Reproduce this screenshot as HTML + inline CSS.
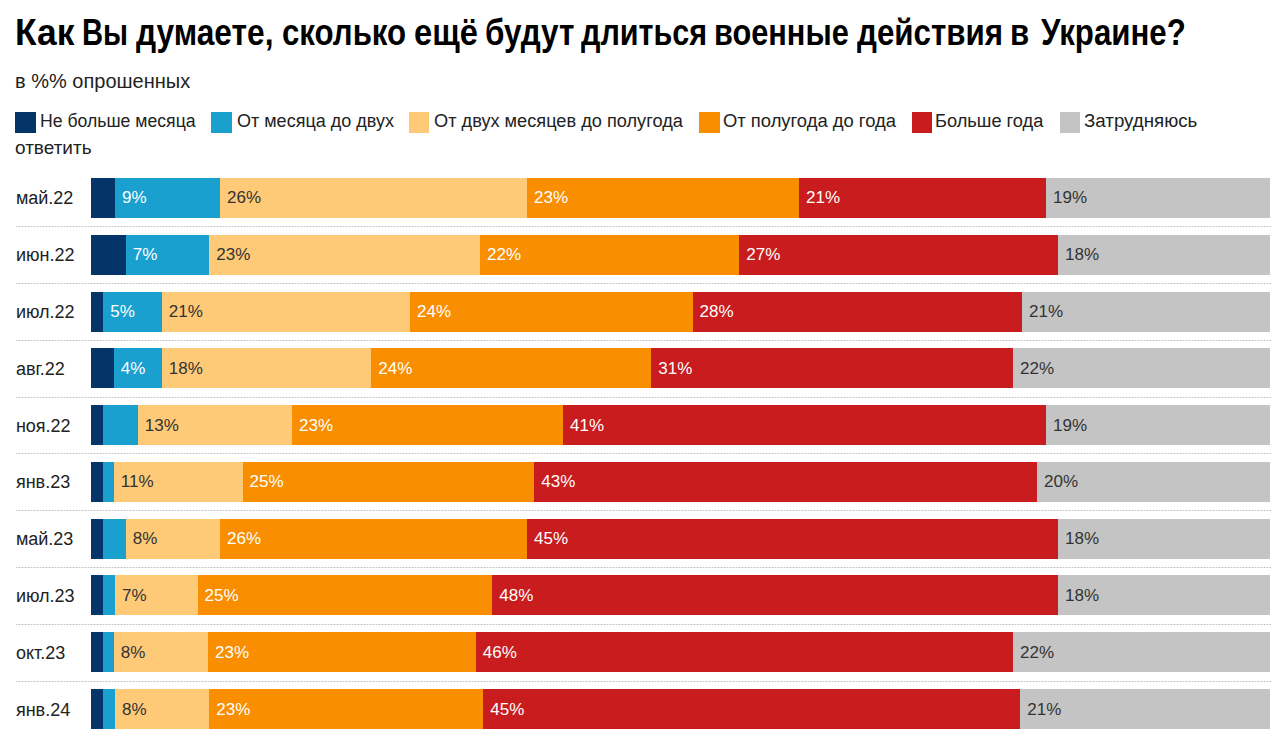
<!DOCTYPE html><html><head><meta charset="utf-8"><style>
*{margin:0;padding:0;box-sizing:border-box}
html,body{width:1280px;height:736px;overflow:hidden;background:#fff}
body{position:relative;font-family:"Liberation Sans",sans-serif;color:#111}
.t{position:absolute;white-space:nowrap}
.tw{position:absolute;top:13.2px;font-size:36px;font-weight:bold;color:#000;line-height:40px;white-space:nowrap;transform-origin:0 0}
#sub{left:15px;top:68.8px;font-size:20px;color:#222;line-height:24px}
.lg{position:absolute;height:20.7px;width:20.6px;top:112px}
.lt{position:absolute;top:109.5px;font-size:18px;line-height:22px;color:#222;white-space:nowrap;transform-origin:0 0}
.rl{position:absolute;left:15.9px;font-size:18px;line-height:20px;color:#222;white-space:nowrap}
.bar{position:absolute;height:40px}
.v{position:absolute;font-size:17px;line-height:20px;white-space:nowrap}
.dl{position:absolute;left:16px;width:1255px;height:1px;background:repeating-linear-gradient(90deg,#bfbfbf 0 1px,#e6e6e6 1px 3px)}
</style></head><body>
<div class="tw" style="left:15.03px;transform:scaleX(0.9828)">Как</div>
<div class="tw" style="left:82.48px;transform:scaleX(0.8115)">Вы</div>
<div class="tw" style="left:135.50px;transform:scaleX(0.8799)">думаете,</div>
<div class="tw" style="left:281.63px;transform:scaleX(0.8667)">сколько</div>
<div class="tw" style="left:414.29px;transform:scaleX(0.9074)">ещё</div>
<div class="tw" style="left:484.50px;transform:scaleX(0.8732)">будут</div>
<div class="tw" style="left:581.25px;transform:scaleX(0.8490)">длиться</div>
<div class="tw" style="left:713.74px;transform:scaleX(0.8532)">военные</div>
<div class="tw" style="left:856.80px;transform:scaleX(0.8702)">действия</div>
<div class="tw" style="left:1009.90px;transform:scaleX(0.8667)">в</div>
<div class="tw" style="left:1041.40px;transform:scaleX(0.8667)">Украине?</div>
<div class="t" id="sub">в %% опрошенных</div>
<div class="lg" style="left:15.3px;background:#053468"></div>
<div class="lt" style="left:39.8px;transform:scaleX(0.98)">Не больше месяца</div>
<div class="lg" style="left:211px;background:#19a0cf"></div>
<div class="lt" style="left:237px;transform:scaleX(1.0)">От месяца до двух</div>
<div class="lg" style="left:408.5px;background:#feca77"></div>
<div class="lt" style="left:434px;transform:scaleX(1.01)">От двух месяцев до полугода</div>
<div class="lg" style="left:699.3px;background:#f88e00"></div>
<div class="lt" style="left:723px;transform:scaleX(1.022)">От полугода до года</div>
<div class="lg" style="left:911.5px;background:#c81c1e"></div>
<div class="lt" style="left:935px;transform:scaleX(1.012)">Больше года</div>
<div class="lg" style="left:1059.5px;background:#c4c4c4"></div>
<div class="lt" style="left:1084px;transform:scaleX(1.04)">Затрудняюсь</div>
<div class="lt" style="left:15px;top:136.6px;transform:scaleX(1.055)">ответить</div>
<div class="rl" style="top:188px">май.22</div>
<div class="bar" style="left:91px;width:24.00px;top:178.00px;background:#053468"></div>
<div class="bar" style="left:115px;width:105.00px;top:178.00px;background:#19a0cf"></div>
<div class="v" style="left:122.00px;top:188px;color:#fff">9%</div>
<div class="bar" style="left:220px;width:307.00px;top:178.00px;background:#feca77"></div>
<div class="v" style="left:227.00px;top:188px;color:#333">26%</div>
<div class="bar" style="left:527px;width:272.00px;top:178.00px;background:#f88e00"></div>
<div class="v" style="left:534.00px;top:188px;color:#fff">23%</div>
<div class="bar" style="left:799px;width:247.00px;top:178.00px;background:#c81c1e"></div>
<div class="v" style="left:806.00px;top:188px;color:#fff">21%</div>
<div class="bar" style="left:1046px;width:224.00px;top:178.00px;background:#c4c4c4"></div>
<div class="v" style="left:1053.00px;top:188px;color:#333">19%</div>
<div class="dl" style="top:226.30px"></div>
<div class="rl" style="top:245px">июн.22</div>
<div class="bar" style="left:91px;width:34.75px;top:234.78px;background:#053468"></div>
<div class="bar" style="left:125.75px;width:83.50px;top:234.78px;background:#19a0cf"></div>
<div class="v" style="left:132.75px;top:245px;color:#fff">7%</div>
<div class="bar" style="left:209.25px;width:270.75px;top:234.78px;background:#feca77"></div>
<div class="v" style="left:216.25px;top:245px;color:#333">23%</div>
<div class="bar" style="left:480px;width:259.25px;top:234.78px;background:#f88e00"></div>
<div class="v" style="left:487.00px;top:245px;color:#fff">22%</div>
<div class="bar" style="left:739.25px;width:318.75px;top:234.78px;background:#c81c1e"></div>
<div class="v" style="left:746.25px;top:245px;color:#fff">27%</div>
<div class="bar" style="left:1058px;width:212.00px;top:234.78px;background:#c4c4c4"></div>
<div class="v" style="left:1065.00px;top:245px;color:#333">18%</div>
<div class="dl" style="top:283.08px"></div>
<div class="rl" style="top:302px">июл.22</div>
<div class="bar" style="left:91px;width:12.25px;top:291.56px;background:#053468"></div>
<div class="bar" style="left:103.25px;width:58.50px;top:291.56px;background:#19a0cf"></div>
<div class="v" style="left:110.25px;top:302px;color:#fff">5%</div>
<div class="bar" style="left:161.75px;width:248.25px;top:291.56px;background:#feca77"></div>
<div class="v" style="left:168.75px;top:302px;color:#333">21%</div>
<div class="bar" style="left:410px;width:282.50px;top:291.56px;background:#f88e00"></div>
<div class="v" style="left:417.00px;top:302px;color:#fff">24%</div>
<div class="bar" style="left:692.5px;width:329.50px;top:291.56px;background:#c81c1e"></div>
<div class="v" style="left:699.50px;top:302px;color:#fff">28%</div>
<div class="bar" style="left:1022px;width:248.00px;top:291.56px;background:#c4c4c4"></div>
<div class="v" style="left:1029.00px;top:302px;color:#333">21%</div>
<div class="dl" style="top:339.86px"></div>
<div class="rl" style="top:359px">авг.22</div>
<div class="bar" style="left:91px;width:22.75px;top:348.34px;background:#053468"></div>
<div class="bar" style="left:113.75px;width:48.00px;top:348.34px;background:#19a0cf"></div>
<div class="v" style="left:120.75px;top:359px;color:#fff">4%</div>
<div class="bar" style="left:161.75px;width:209.50px;top:348.34px;background:#feca77"></div>
<div class="v" style="left:168.75px;top:359px;color:#333">18%</div>
<div class="bar" style="left:371.25px;width:280.00px;top:348.34px;background:#f88e00"></div>
<div class="v" style="left:378.25px;top:359px;color:#fff">24%</div>
<div class="bar" style="left:651.25px;width:361.75px;top:348.34px;background:#c81c1e"></div>
<div class="v" style="left:658.25px;top:359px;color:#fff">31%</div>
<div class="bar" style="left:1013px;width:257.00px;top:348.34px;background:#c4c4c4"></div>
<div class="v" style="left:1020.00px;top:359px;color:#333">22%</div>
<div class="dl" style="top:396.64px"></div>
<div class="rl" style="top:416px">ноя.22</div>
<div class="bar" style="left:91px;width:12.25px;top:405.12px;background:#053468"></div>
<div class="bar" style="left:103.25px;width:34.50px;top:405.12px;background:#19a0cf"></div>
<div class="bar" style="left:137.75px;width:154.25px;top:405.12px;background:#feca77"></div>
<div class="v" style="left:144.75px;top:416px;color:#333">13%</div>
<div class="bar" style="left:292px;width:271.00px;top:405.12px;background:#f88e00"></div>
<div class="v" style="left:299.00px;top:416px;color:#fff">23%</div>
<div class="bar" style="left:563px;width:483.00px;top:405.12px;background:#c81c1e"></div>
<div class="v" style="left:570.00px;top:416px;color:#fff">41%</div>
<div class="bar" style="left:1046px;width:224.00px;top:405.12px;background:#c4c4c4"></div>
<div class="v" style="left:1053.00px;top:416px;color:#333">19%</div>
<div class="dl" style="top:453.42px"></div>
<div class="rl" style="top:472px">янв.23</div>
<div class="bar" style="left:91px;width:12.25px;top:461.90px;background:#053468"></div>
<div class="bar" style="left:103.25px;width:10.50px;top:461.90px;background:#19a0cf"></div>
<div class="bar" style="left:113.75px;width:128.75px;top:461.90px;background:#feca77"></div>
<div class="v" style="left:120.75px;top:472px;color:#333">11%</div>
<div class="bar" style="left:242.5px;width:291.75px;top:461.90px;background:#f88e00"></div>
<div class="v" style="left:249.50px;top:472px;color:#fff">25%</div>
<div class="bar" style="left:534.25px;width:502.75px;top:461.90px;background:#c81c1e"></div>
<div class="v" style="left:541.25px;top:472px;color:#fff">43%</div>
<div class="bar" style="left:1037px;width:233.00px;top:461.90px;background:#c4c4c4"></div>
<div class="v" style="left:1044.00px;top:472px;color:#333">20%</div>
<div class="dl" style="top:510.20px"></div>
<div class="rl" style="top:529px">май.23</div>
<div class="bar" style="left:91px;width:12.25px;top:518.68px;background:#053468"></div>
<div class="bar" style="left:103.25px;width:22.50px;top:518.68px;background:#19a0cf"></div>
<div class="bar" style="left:125.75px;width:94.25px;top:518.68px;background:#feca77"></div>
<div class="v" style="left:132.75px;top:529px;color:#333">8%</div>
<div class="bar" style="left:220px;width:307.00px;top:518.68px;background:#f88e00"></div>
<div class="v" style="left:227.00px;top:529px;color:#fff">26%</div>
<div class="bar" style="left:527px;width:531.00px;top:518.68px;background:#c81c1e"></div>
<div class="v" style="left:534.00px;top:529px;color:#fff">45%</div>
<div class="bar" style="left:1058px;width:212.00px;top:518.68px;background:#c4c4c4"></div>
<div class="v" style="left:1065.00px;top:529px;color:#333">18%</div>
<div class="dl" style="top:566.98px"></div>
<div class="rl" style="top:586px">июл.23</div>
<div class="bar" style="left:91px;width:12.25px;top:575.46px;background:#053468"></div>
<div class="bar" style="left:103.25px;width:11.75px;top:575.46px;background:#19a0cf"></div>
<div class="bar" style="left:115px;width:82.50px;top:575.46px;background:#feca77"></div>
<div class="v" style="left:122.00px;top:586px;color:#333">7%</div>
<div class="bar" style="left:197.5px;width:294.75px;top:575.46px;background:#f88e00"></div>
<div class="v" style="left:204.50px;top:586px;color:#fff">25%</div>
<div class="bar" style="left:492.25px;width:565.75px;top:575.46px;background:#c81c1e"></div>
<div class="v" style="left:499.25px;top:586px;color:#fff">48%</div>
<div class="bar" style="left:1058px;width:212.00px;top:575.46px;background:#c4c4c4"></div>
<div class="v" style="left:1065.00px;top:586px;color:#333">18%</div>
<div class="dl" style="top:623.76px"></div>
<div class="rl" style="top:643px">окт.23</div>
<div class="bar" style="left:91px;width:12.25px;top:632.24px;background:#053468"></div>
<div class="bar" style="left:103.25px;width:10.50px;top:632.24px;background:#19a0cf"></div>
<div class="bar" style="left:113.75px;width:94.25px;top:632.24px;background:#feca77"></div>
<div class="v" style="left:120.75px;top:643px;color:#333">8%</div>
<div class="bar" style="left:208px;width:267.75px;top:632.24px;background:#f88e00"></div>
<div class="v" style="left:215.00px;top:643px;color:#fff">23%</div>
<div class="bar" style="left:475.75px;width:537.25px;top:632.24px;background:#c81c1e"></div>
<div class="v" style="left:482.75px;top:643px;color:#fff">46%</div>
<div class="bar" style="left:1013px;width:257.00px;top:632.24px;background:#c4c4c4"></div>
<div class="v" style="left:1020.00px;top:643px;color:#333">22%</div>
<div class="dl" style="top:680.54px"></div>
<div class="rl" style="top:700px">янв.24</div>
<div class="bar" style="left:91px;width:12.25px;top:689.02px;background:#053468"></div>
<div class="bar" style="left:103.25px;width:11.75px;top:689.02px;background:#19a0cf"></div>
<div class="bar" style="left:115px;width:94.25px;top:689.02px;background:#feca77"></div>
<div class="v" style="left:122.00px;top:700px;color:#333">8%</div>
<div class="bar" style="left:209.25px;width:274.00px;top:689.02px;background:#f88e00"></div>
<div class="v" style="left:216.25px;top:700px;color:#fff">23%</div>
<div class="bar" style="left:483.25px;width:537.00px;top:689.02px;background:#c81c1e"></div>
<div class="v" style="left:490.25px;top:700px;color:#fff">45%</div>
<div class="bar" style="left:1020.25px;width:249.75px;top:689.02px;background:#c4c4c4"></div>
<div class="v" style="left:1027.25px;top:700px;color:#333">21%</div>
</body></html>
